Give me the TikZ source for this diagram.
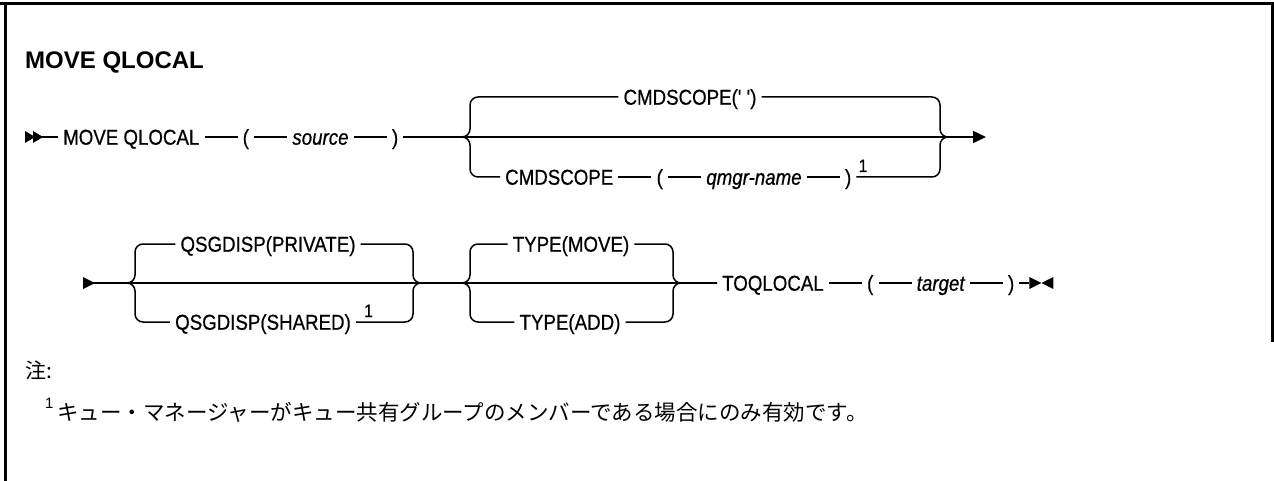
\documentclass[tikz,border=0pt]{standalone}
\usepackage{fontspec}
\setmainfont{Liberation Sans}
\newfontfamily\railfamily{Liberation Sans}[FakeStretch=0.87, FakeBold=0.6]
\newfontfamily\jpfont{Noto Sans CJK JP}
\usetikzlibrary{arrows.meta, positioning}

\newcommand{\railfont}{\railfamily\fontsize{21.5}{24}\selectfont}

\begin{document}
\begin{tikzpicture}[x=1pt, y=-1pt, node distance=33pt,
    rail/.style={line width=1.5pt},
    brace/.style={rail, rounded corners=8pt},
    kw/.style={inner xsep=5pt, inner ysep=0pt, text height=15.4pt,
               text depth=0pt, font=\railfont},
    var/.style={kw, font=\railfont\itshape},
    fnmark/.style={inner sep=0pt, font=\railfamily\fontsize{18}{20}\selectfont}]
  \useasboundingbox (0,0) rectangle (1274,481);
  \fill[white] (0,0) rectangle (1274,481);

  \draw[line width=3pt] (0,4) -- (1274,4);
  \draw[line width=3pt] (5,4) -- (5,481);
  \draw[line width=3pt] (1272,4) -- (1272,342);

  \node[anchor=west, inner sep=0pt,
        font=\fontsize{24}{27}\selectfont\bfseries] (title) at (25,62) {MOVE QLOCAL};

  % first line
  \coordinate (start1) at (25,137);
  \coordinate (b1l) at (470,137);
  \coordinate (b1r) at (940,137);
  \coordinate (j1) at (956,137);
  \coordinate (end1) at (986,137);

  \node[kw, anchor=west] (mq) at (58,137) {MOVE QLOCAL};
  \node[kw, right=of mq] (lp1) {(};
  \node[var, right=of lp1] (src) {source};
  \node[kw, right=of src] (rp1) {)};

  \node[kw] (cs1) at (690,97) {CMDSCOPE(' ')};
  \node[kw, anchor=west] (cs2) at (500,177) {CMDSCOPE};
  \node[kw, right=of cs2] (lp2) {(};
  \node[var, right=of lp2] (qm) {qmgr-name};
  \node[kw, right=of qm] (rp2) {)};
  \node[fnmark, anchor=base west] (fn1) at ([xshift=2pt, yshift=5pt]rp2.east) {1};

  \draw[rail] (start1) -- (mq);
  \fill (start1) -- ++(0,-6) -- ++(10,6) -- ++(-10,6) -- cycle;
  \fill ([xshift=8pt]start1) -- ++(0,-6) -- ++(10,6) -- ++(-10,6) -- cycle;
  \draw[rail] (mq) -- (lp1);
  \draw[rail] (lp1) -- (src);
  \draw[rail] (src) -- (rp1);
  \draw[rail, -{Triangle[length=13pt, width=12pt]}] (rp1) -- (end1);
  \draw[rail] (cs2) -- (lp2);
  \draw[rail] (lp2) -- (qm);
  \draw[rail] (qm) -- (rp2);

  \draw[brace] (cs1) -| (b1l) -- (rp1);
  \draw[brace] (cs2) -| (b1l) -- (rp1);
  \draw[brace] (cs1) -| (b1r) -- (j1);
  \draw[brace] (rp2) -| (b1r) -- (j1);

  % second line
  \coordinate (start2) at (83,283);
  \coordinate (b2l) at (135,283);
  \coordinate (b2r) at (413,283);
  \coordinate (b3l) at (470,283);
  \coordinate (b3r) at (673,283);

  \node[kw] (qp) at (268,244) {QSGDISP(PRIVATE)};
  \node[kw] (qs) at (263,322) {QSGDISP(SHARED)};
  \node[fnmark, anchor=base west] (fn2) at ([xshift=8pt, yshift=5pt]qs.east) {1};
  \node[kw] (tm) at (571,244) {TYPE(MOVE)};
  \node[kw] (ta) at (570,322) {TYPE(ADD)};
  \node[kw, anchor=west] (toq) at (717,283) {TOQLOCAL};
  \node[kw, right=of toq] (lp3) {(};
  \node[var, right=of lp3] (tgt) {target};
  \node[kw, right=of tgt] (rp3) {)};
  \coordinate[right=10pt of rp3] (end2);

  \draw[rail] (start2) -- (toq);
  \fill (start2) -- ++(0,-6) -- ++(12,6) -- ++(-12,6) -- cycle;
  \draw[rail] (toq) -- (lp3);
  \draw[rail] (lp3) -- (tgt);
  \draw[rail] (tgt) -- (rp3);
  \draw[rail] (rp3) -- (end2);
  \fill (end2) -- ++(0,-6) -- ++(12,6) -- ++(-12,6) -- cycle;
  \fill ([xshift=24pt]end2) -- ++(0,-6) -- ++(-12,6) -- ++(12,6) -- cycle;

  \draw[brace] (qp) -| (b2l) -- (start2);
  \draw[brace] (qs) -| (b2l) -- (start2);
  \draw[brace] (qp) -| (b2r) -- (b3l);
  \draw[brace] (qs) -| (b2r) -- (b3l);
  \draw[brace] (tm) -| (b3l) -- (b2r);
  \draw[brace] (ta) -| (b3l) -- (b2r);
  \draw[brace] (tm) -| (b3r) -- (toq);
  \draw[brace] (ta) -| (b3r) -- (toq);

  % notes
  \node[anchor=west, inner sep=0pt, font=\jpfont\fontsize{21}{24}\selectfont] (note) at (25,370) {注:};
  \node[anchor=base west, inner sep=0pt, font=\fontsize{15}{17}\selectfont] (fn) at (45,408) {1};
  \node[anchor=base west, inner sep=0pt, font=\jpfont\fontsize{21.5}{24}\selectfont] (fntext)
    at (57,420) {キュー・マネージャーがキュー共有グループのメンバーである場合にのみ有効です。};
\end{tikzpicture}
\end{document}
